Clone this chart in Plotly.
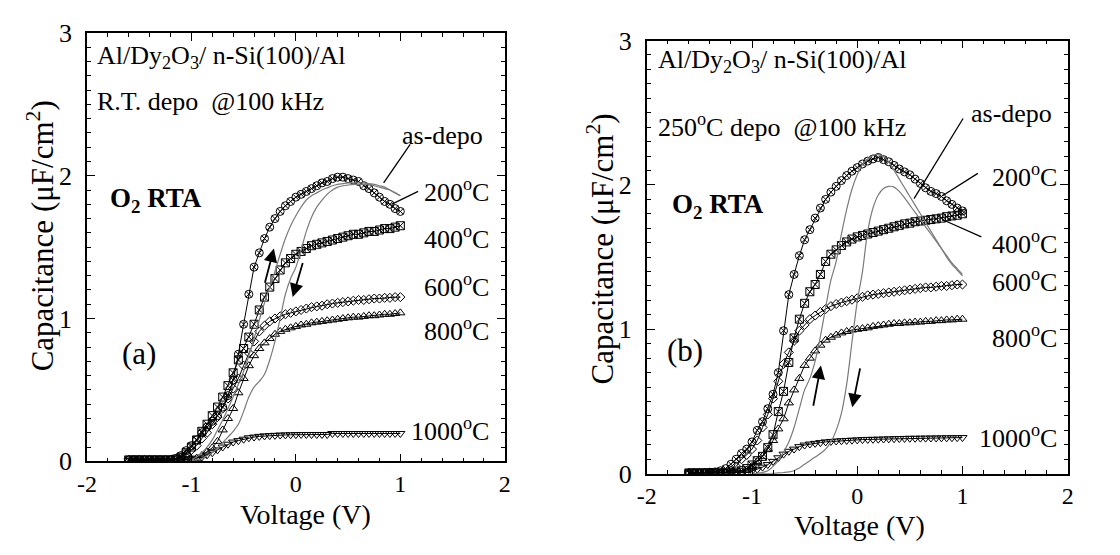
import plotly.graph_objects as go

# Gate voltage sweep (V)
voltage = [-1.60, -1.55, -1.50, -1.45, -1.40, -1.35, -1.30, -1.25, -1.20, -1.15, -1.10, -1.05,
           -1.00, -0.95, -0.90, -0.85, -0.80, -0.75, -0.70, -0.65, -0.60, -0.55,
           -0.50, -0.45, -0.40, -0.35, -0.30, -0.25, -0.20, -0.15, -0.10, -0.05,
           0.00, 0.05, 0.10, 0.15, 0.20, 0.25, 0.30, 0.35, 0.40, 0.45,
           0.50, 0.55, 0.60, 0.65, 0.70, 0.75, 0.80, 0.85, 0.90, 0.95, 1.00]
# as-deposited hysteresis loops are recorded from -1 V to +1 V
voltage_asdepo = voltage[12:]

# ---- (a) R.T. deposited film, capacitance in uF/cm^2 ----
a_200 = [0.01, 0.01, 0.01, 0.01, 0.01, 0.01, 0.01, 0.01, 0.01, 0.02, 0.04, 0.075,
         0.11, 0.15, 0.20, 0.24, 0.28, 0.32, 0.38, 0.46, 0.57, 0.75,
         0.96, 1.17, 1.36, 1.46, 1.56, 1.64, 1.70, 1.75, 1.79, 1.82,
         1.85, 1.87, 1.89, 1.91, 1.93, 1.95, 1.96, 1.98, 1.99, 1.99,
         1.98, 1.97, 1.96, 1.93, 1.91, 1.88, 1.85, 1.82, 1.80, 1.77, 1.75]
a_400 = [0.01, 0.01, 0.01, 0.01, 0.01, 0.01, 0.01, 0.01, 0.01, 0.015, 0.03, 0.06,
         0.10, 0.15, 0.21, 0.26, 0.32, 0.38, 0.45, 0.53, 0.62, 0.71,
         0.79, 0.87, 0.96, 1.06, 1.15, 1.22, 1.28, 1.34, 1.39, 1.42,
         1.45, 1.47, 1.49, 1.51, 1.52, 1.53, 1.54, 1.55, 1.56, 1.57,
         1.58, 1.59, 1.59, 1.60, 1.61, 1.61, 1.62, 1.63, 1.63, 1.64, 1.65]
a_600 = [0.01, 0.01, 0.01, 0.01, 0.01, 0.01, 0.01, 0.01, 0.01, 0.015, 0.025, 0.05,
         0.08, 0.11, 0.16, 0.20, 0.26, 0.31, 0.37, 0.44, 0.51, 0.58,
         0.67, 0.76, 0.84, 0.91, 0.95, 0.98, 1.00, 1.015, 1.03, 1.04,
         1.05, 1.06, 1.07, 1.08, 1.085, 1.09, 1.10, 1.105, 1.11, 1.115,
         1.12, 1.125, 1.13, 1.13, 1.135, 1.14, 1.14, 1.145, 1.145, 1.15, 1.15]
a_800 = [0.005, 0.005, 0.005, 0.005, 0.005, 0.005, 0.005, 0.005, 0.005, 0.008, 0.01, 0.013,
         0.016, 0.022, 0.04, 0.065, 0.095, 0.14, 0.22, 0.30, 0.37, 0.48,
         0.58, 0.67, 0.74, 0.79, 0.83, 0.86, 0.89, 0.91, 0.925, 0.935,
         0.945, 0.955, 0.96, 0.97, 0.975, 0.98, 0.985, 0.99, 0.995, 1.00,
         1.005, 1.01, 1.01, 1.015, 1.02, 1.02, 1.025, 1.03, 1.03, 1.035, 1.04]
a_1000 = [0.005, 0.005, 0.005, 0.005, 0.005, 0.005, 0.005, 0.005, 0.005, 0.006, 0.008, 0.01,
          0.015, 0.022, 0.03, 0.045, 0.06, 0.08, 0.10, 0.12, 0.135, 0.145,
          0.155, 0.165, 0.17, 0.175, 0.178, 0.18, 0.182, 0.184, 0.185, 0.186,
          0.187, 0.188, 0.188, 0.188, 0.188, 0.188, 0.188, 0.195, 0.195, 0.195,
          0.195, 0.195, 0.195, 0.195, 0.195, 0.195, 0.195, 0.195, 0.195, 0.195, 0.195]
a_asdepo_up = [0.01, 0.03, 0.06, 0.10, 0.15, 0.22, 0.29, 0.37, 0.45, 0.54,
               0.63, 0.74, 0.86, 0.99, 1.11, 1.22, 1.33, 1.45, 1.56, 1.65,
               1.72, 1.78, 1.83, 1.86, 1.88, 1.90, 1.915, 1.93, 1.94, 1.945,
               1.95, 1.95, 1.95, 1.95, 1.945, 1.94, 1.93, 1.92, 1.90, 1.88, 1.86]
a_asdepo_down = [0.005, 0.01, 0.02, 0.04, 0.06, 0.09, 0.13, 0.17, 0.21, 0.26,
                 0.35, 0.45, 0.52, 0.56, 0.61, 0.71, 0.84, 1.00, 1.17, 1.28,
                 1.36, 1.48, 1.61, 1.71, 1.78, 1.83, 1.87, 1.90, 1.92, 1.93,
                 1.935, 1.94, 1.94, 1.94, 1.94, 1.93, 1.92, 1.91, 1.90, 1.88, 1.86]

# ---- (b) 250 oC deposited film ----
b_200 = [0.005, 0.005, 0.006, 0.008, 0.01, 0.012, 0.02, 0.035, 0.065, 0.10, 0.14, 0.17,
         0.22, 0.30, 0.36, 0.45, 0.55, 0.70, 0.99, 1.24, 1.38, 1.51,
         1.62, 1.69, 1.77, 1.84, 1.90, 1.95, 1.99, 2.03, 2.065, 2.095,
         2.12, 2.145, 2.165, 2.18, 2.19, 2.175, 2.16, 2.135, 2.11, 2.09,
         2.07, 2.04, 2.01, 1.98, 1.955, 1.94, 1.92, 1.89, 1.865, 1.84, 1.82]
b_400 = [0.005, 0.005, 0.005, 0.005, 0.005, 0.005, 0.005, 0.005, 0.005, 0.01, 0.02, 0.035,
         0.06, 0.09, 0.12, 0.18, 0.27, 0.43, 0.57, 0.77, 0.94, 1.07,
         1.18, 1.26, 1.31, 1.38, 1.47, 1.52, 1.55, 1.58, 1.605, 1.625,
         1.64, 1.65, 1.66, 1.67, 1.68, 1.69, 1.70, 1.71, 1.72, 1.73,
         1.735, 1.745, 1.75, 1.755, 1.76, 1.765, 1.77, 1.78, 1.785, 1.79, 1.80]
b_600 = [0.005, 0.005, 0.005, 0.005, 0.005, 0.005, 0.005, 0.005, 0.02, 0.05, 0.10, 0.13,
         0.17, 0.23, 0.32, 0.41, 0.52, 0.64, 0.76, 0.84, 0.92, 0.99,
         1.03, 1.07, 1.095, 1.12, 1.14, 1.16, 1.175, 1.185, 1.195, 1.205,
         1.215, 1.225, 1.235, 1.24, 1.245, 1.25, 1.255, 1.26, 1.265, 1.27,
         1.275, 1.28, 1.285, 1.29, 1.29, 1.295, 1.30, 1.30, 1.305, 1.31, 1.31]
b_800 = [0.005, 0.005, 0.005, 0.005, 0.005, 0.005, 0.005, 0.005, 0.005, 0.005, 0.01, 0.025,
         0.05, 0.085, 0.12, 0.17, 0.23, 0.31, 0.38, 0.49, 0.58, 0.66,
         0.75, 0.80, 0.85, 0.89, 0.925, 0.945, 0.96, 0.975, 0.985, 0.995,
         1.00, 1.005, 1.01, 1.02, 1.025, 1.03, 1.035, 1.04, 1.04, 1.045,
         1.045, 1.05, 1.05, 1.055, 1.055, 1.06, 1.06, 1.065, 1.065, 1.07, 1.07]
b_1000 = [0.005, 0.005, 0.005, 0.005, 0.005, 0.005, 0.005, 0.005, 0.005, 0.005, 0.005, 0.01,
          0.018, 0.03, 0.045, 0.063, 0.085, 0.11, 0.135, 0.155, 0.17, 0.187,
          0.198, 0.205, 0.21, 0.215, 0.22, 0.223, 0.226, 0.228, 0.23, 0.232,
          0.234, 0.236, 0.237, 0.238, 0.239, 0.24, 0.241, 0.242, 0.243, 0.244,
          0.245, 0.245, 0.246, 0.246, 0.247, 0.247, 0.248, 0.248, 0.249, 0.249, 0.25]
b_asdepo_up = [0.0, 0.003, 0.008, 0.02, 0.05, 0.09, 0.15, 0.22, 0.32, 0.45,
               0.58, 0.66, 0.78, 0.95, 1.15, 1.34, 1.47, 1.66, 1.83, 1.97,
               2.07, 2.14, 2.18, 2.205, 2.21, 2.195, 2.16, 2.10, 2.04, 1.98,
               1.92, 1.86, 1.80, 1.74, 1.68, 1.62, 1.56, 1.50, 1.45, 1.41, 1.37]
b_asdepo_down = [0.0, 0.0, 0.0, 0.0, 0.002, 0.005, 0.008, 0.012, 0.02, 0.04,
                 0.065, 0.09, 0.115, 0.14, 0.17, 0.22, 0.30, 0.42, 0.62, 0.91,
                 1.19, 1.40, 1.68, 1.84, 1.93, 1.975, 1.99, 1.985, 1.955, 1.91,
                 1.86, 1.81, 1.76, 1.71, 1.66, 1.61, 1.56, 1.51, 1.46, 1.42, 1.38]

temp_labels = ["200<sup>o</sup>C", "400<sup>o</sup>C", "600<sup>o</sup>C",
               "800<sup>o</sup>C", "1000<sup>o</sup>C"]
x_tickvals = [-2, -1, 0, 1, 2]
x_ticktext = ["-2", "-1", "0", "1", "2"]
y_tickvals = [0, 1, 2, 3]
y_ticktext = ["0", "1", "2", "3"]

FONT = "Liberation Serif, Times New Roman, serif"
W, H = 1120, 555


def px(x):
    return x / W


def py(y):
    return 1 - y / H


fig = go.Figure()

symbols = [("circle-x-open", 8), ("square-x-open", 8), ("diamond-open", 7),
           ("triangle-up-open", 8), ("triangle-down-open", 8)]


def add_panel(series, loops, xa, ya):
    for (sym, size), ys in zip(symbols, series):
        fig.add_trace(go.Scatter(
            x=voltage, y=ys, mode="lines+markers", xaxis=xa, yaxis=ya,
            line=dict(color="black", width=1),
            marker=dict(symbol=sym, size=size, color="black",
                        line=dict(color="black", width=1)),
            showlegend=False, hoverinfo="skip"))
    for ys in loops:
        fig.add_trace(go.Scatter(
            x=voltage_asdepo, y=ys, mode="lines", xaxis=xa, yaxis=ya,
            line=dict(color="#7a7a7a", width=1.2, shape="spline"),
            showlegend=False, hoverinfo="skip"))


add_panel([a_200, a_400, a_600, a_800, a_1000], [a_asdepo_up, a_asdepo_down], "x", "y")
add_panel([b_200, b_400, b_600, b_800, b_1000], [b_asdepo_up, b_asdepo_down], "x2", "y2")

axis_style = dict(
    showline=True, linecolor="black", linewidth=1.5, mirror="allticks",
    ticks="inside", ticklen=8, tickwidth=1.2, tickcolor="black",
    showgrid=False, zeroline=False,
    tickfont=dict(family=FONT, size=26, color="black"),
)
xstyle = dict(axis_style, range=[-2, 2], tickvals=x_tickvals, ticktext=x_ticktext,
              ticklabelstandoff=0, tickfont=dict(family=FONT, size=24, color="black"),
              minor=dict(dtick=0.2, tick0=0, ticks="inside", ticklen=4, tickwidth=1, tickcolor="black"))
ystyle = dict(axis_style, range=[0, 3], tickvals=y_tickvals, ticktext=y_ticktext,
              ticklabelstandoff=8,
              minor=dict(dtick=0.1, tick0=0, ticks="inside", ticklen=4, tickwidth=1, tickcolor="black"))

fig.update_layout(
    width=W, height=H, margin=dict(l=0, r=0, t=0, b=0),
    paper_bgcolor="white", plot_bgcolor="white",
    font=dict(family=FONT, size=20, color="black"),
    xaxis=dict(xstyle, domain=[px(78), px(502)], anchor="y"),
    yaxis=dict(ystyle, domain=[py(472), py(20)], anchor="x"),
    xaxis2=dict(xstyle, domain=[px(646), px(1073)], anchor="y2"),
    yaxis2=dict(ystyle, domain=[py(485), py(28)], anchor="x2"),
)

annotations = []


def text(x, y, s, size=25, bold=False, xanchor="left", angle=0):
    if bold:
        s = "<b>" + s + "</b>"
    annotations.append(dict(x=px(x), y=py(y), xref="paper", yref="paper", text=s,
                            showarrow=False, xanchor=xanchor, yanchor="middle",
                            textangle=angle,
                            font=dict(family=FONT, size=size, color="black")))


# axis titles
Y_TITLE = "Capacitance (\u03bcF/cm<sup>2</sup>)"
X_TITLE = "Voltage (V)"
text(31, 234, Y_TITLE, 31, xanchor="center", angle=-90)
text(300, 528, X_TITLE, 28, xanchor="center")
text(599, 248, Y_TITLE, 31, xanchor="center", angle=-90)
text(862, 540, X_TITLE, 28, xanchor="center")

# panel (a) texts
text(86, 45, "Al/Dy<sub>2</sub>O<sub>3</sub>/ n-Si(100)/Al", 26)
text(86, 92, "R.T. depo  @100 kHz", 26)
text(99, 196, "O<sub>2</sub> RTA", 27, bold=True)
text(112, 358, "(a)", 31)
text(396, 128, "as-depo", 26)
for s, y in zip(temp_labels, [186, 236, 286, 333, 438]):
    text(488, y, s, 26, xanchor="right")

# panel (b) texts
text(655, 50, "Al/Dy<sub>2</sub>O<sub>3</sub>/ n-Si(100)/Al", 26)
text(655, 118, "250<sup>o</sup>C depo  @100 kHz", 26)
text(670, 203, "O<sub>2</sub> RTA", 27, bold=True)
text(664, 355, "(b)", 31)
text(973, 105, "as-depo", 26)
for s, y in zip(temp_labels, [170, 241, 281, 340, 446]):
    text(1064, y, s, 26, xanchor="right")


def arrow(xr, yr, tail, tip):
    annotations.append(dict(x=tip[0], y=tip[1], ax=tail[0], ay=tail[1],
                            xref=xr, yref=yr, axref=xr, ayref=yr, text="",
                            showarrow=True, arrowhead=2, arrowsize=1.5,
                            arrowwidth=1.8, arrowcolor="black"))


# sweep direction arrows
arrow("x", "y", (-0.30, 1.24), (-0.21, 1.49))
arrow("x", "y", (0.07, 1.40), (-0.03, 1.15))
arrow("x2", "y2", (-0.42, 0.46), (-0.345, 0.75))
arrow("x2", "y2", (0.03, 0.74), (-0.047, 0.46))

fig.update_layout(annotations=annotations)

# leader lines from labels to curves
leaders = [
    ("x", "y", 1.094, 2.22, 0.84, 1.95),
    ("x", "y", 1.17, 1.89, 0.915, 1.80),
    ("x2", "y2", 1.006, 2.46, 0.54, 1.905),
    ("x2", "y2", 1.146, 2.08, 0.81, 1.925),
    ("x2", "y2", 1.18, 1.64, 0.84, 1.75),
]
for xr, yr, x0, y0, x1, y1 in leaders:
    fig.add_shape(type="line", xref=xr, yref=yr, x0=x0, y0=y0, x1=x1, y1=y1,
                  line=dict(color="black", width=1.3))

fig.write_html("out.html")
